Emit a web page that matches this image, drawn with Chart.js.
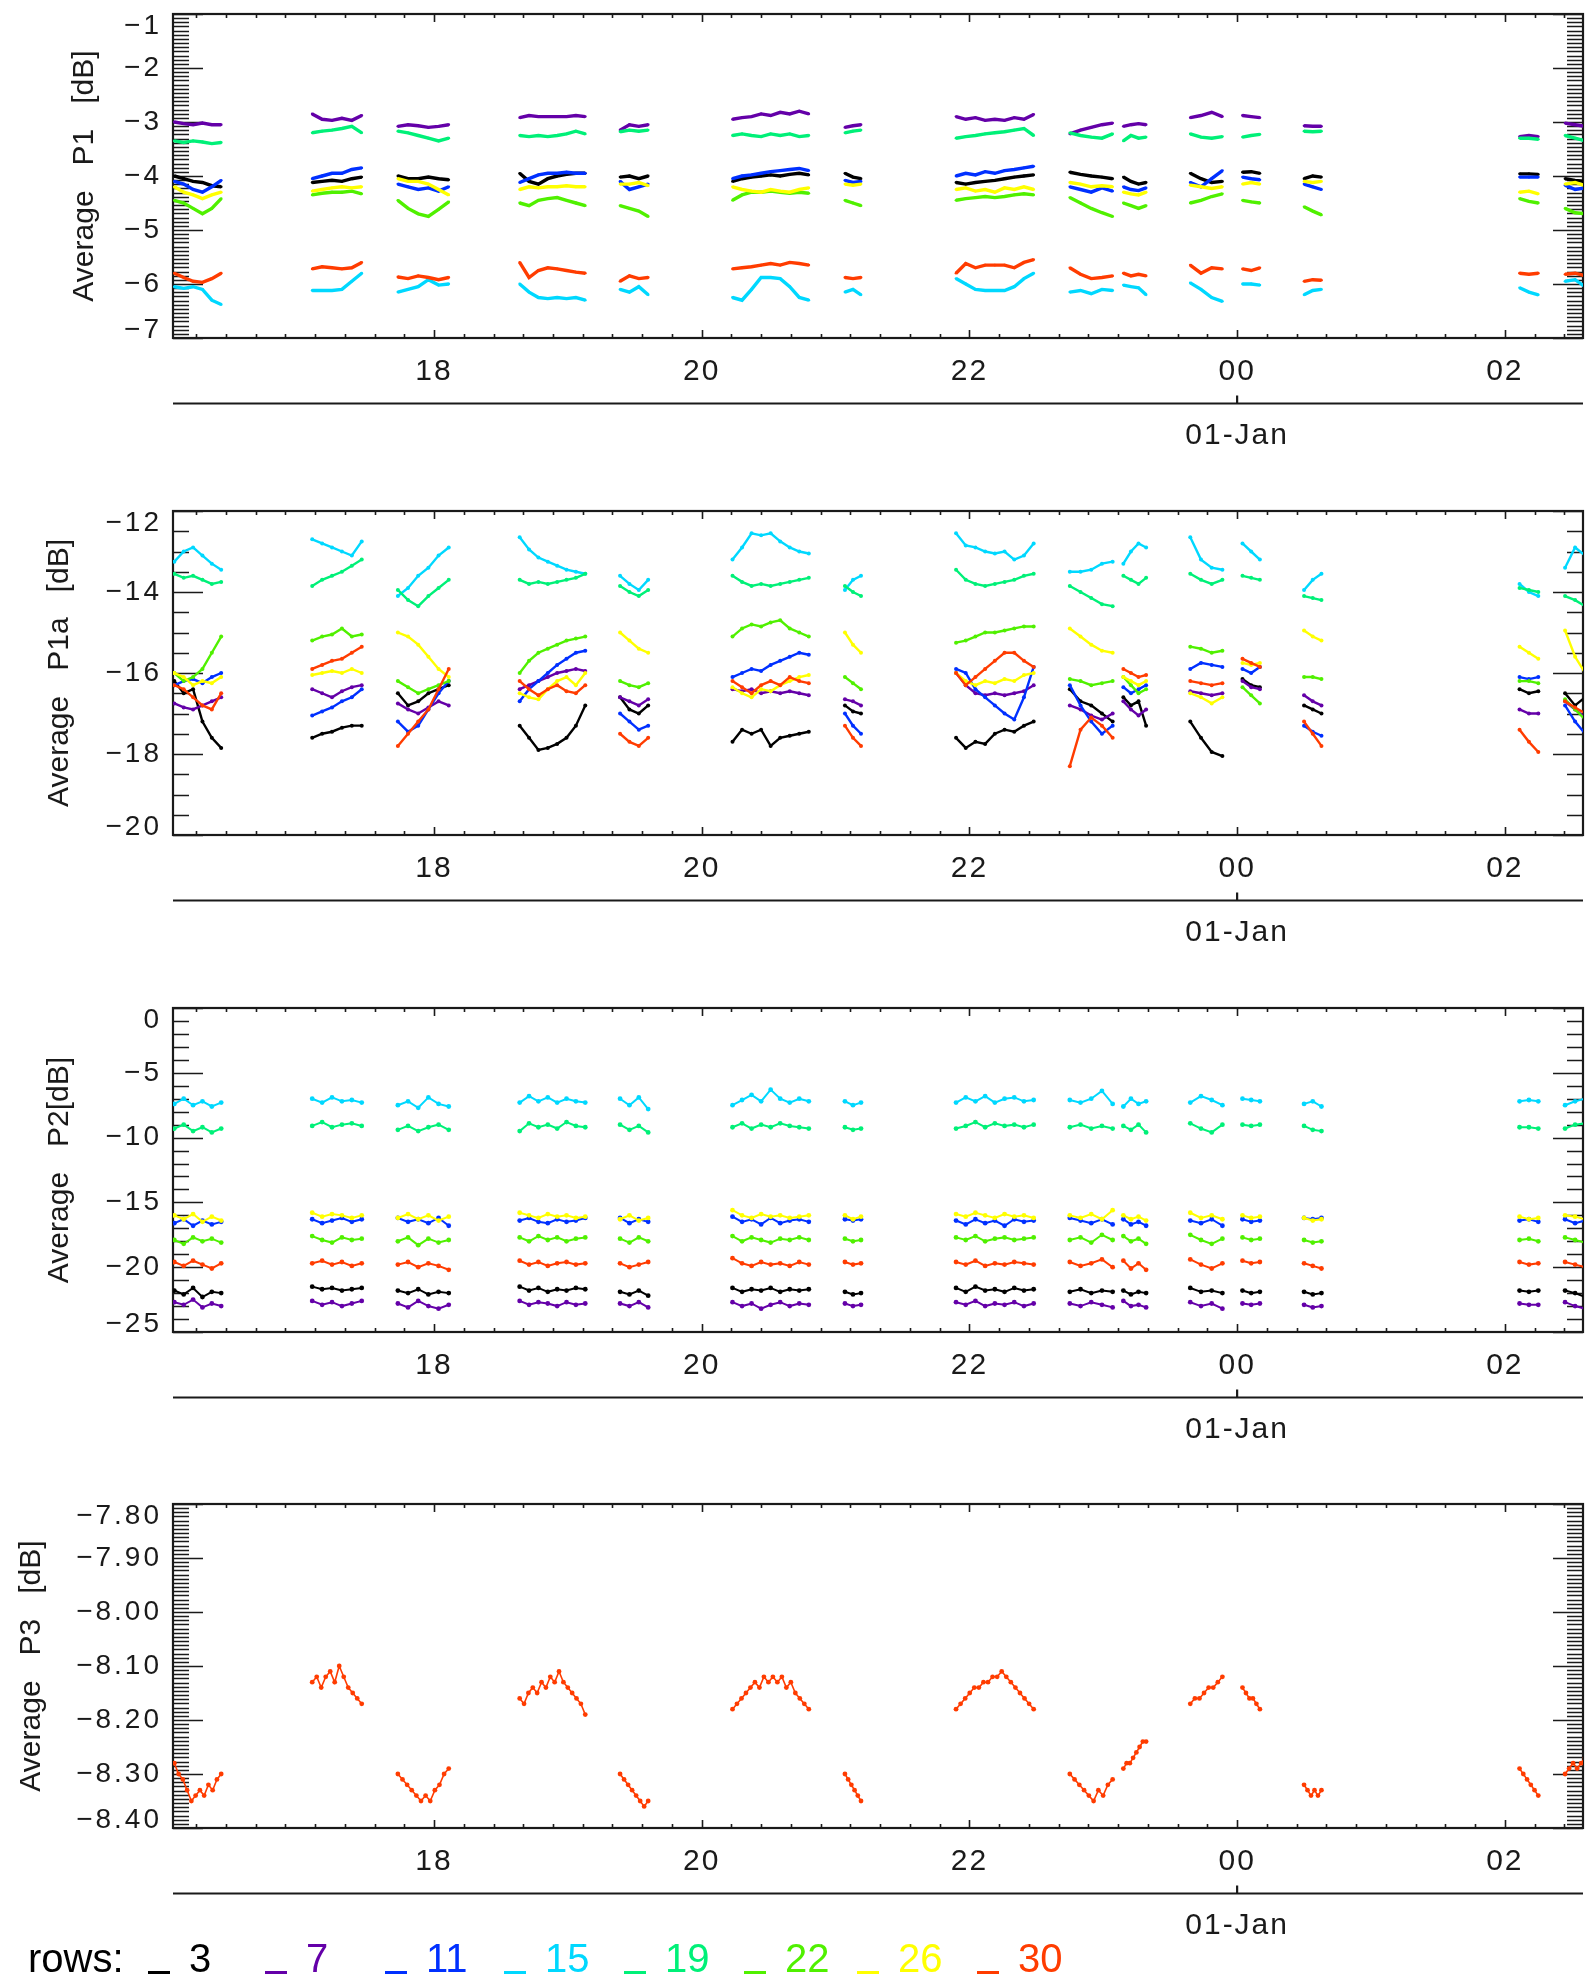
<!DOCTYPE html>
<html lang="en">
<head>
<meta charset="UTF-8">
<title>Average P1 / P1a / P2 / P3 by row</title>
<style>
  html, body { margin: 0; padding: 0; background: #fff; }
  #page { position: relative; width: 1589px; height: 1978px; overflow: hidden; font-family: 'Liberation Sans', Arial, sans-serif; color: #1a1a1a; }
  #page canvas { position: absolute; left: 0; }
  #legend { position: absolute; left: 0; top: 1935px; width: 1589px; height: 46px; font-size: 40px; line-height: 46px; white-space: pre; z-index: 2; }
  #legend span { position: absolute; top: 0; }
  #legend .bar { position: absolute; top: 36px; width: 22px; height: 3px; }
</style>
<script src="https://cdn.jsdelivr.net/npm/chart.js"></script>
</head>
<body>
<div id="page">
  <canvas id="c0" width="1589" height="497" style="top:0px"></canvas>
  <canvas id="c1" width="1589" height="497" style="top:497px"></canvas>
  <canvas id="c2" width="1589" height="496" style="top:994px"></canvas>
  <canvas id="c3" width="1589" height="488" style="top:1490px"></canvas>
  <div id="legend"></div>
</div>
<script>
  // rows and their colours
  const ROWS = [3, 7, 11, 15, 19, 22, 26, 30];
  const ROW_COLORS = ['#000000', '#6400a8', '#0030ff', '#00d8ff', '#00f078', '#50f000', '#ffff00', '#ff3c00'];

  // time axis, hours from 00 on 31-Dec
  const X_MIN = 16.05, X_MAX = 26.584;
  const X_TICK_VALUES = [18, 20, 22, 24, 26];
  const X_TICK_LABELS = ['18', '20', '22', '00', '02'];
  const DATE_VALUE = 24;
  const DATE_LABEL = '01-Jan';

  // observation windows (each value list below is spread evenly over its window)
  const SEG_START = [16.06, 17.09, 17.73, 18.64, 19.39, 20.23, 21.07, 21.90, 22.75, 23.15, 23.65, 24.04, 24.50, 26.11, 26.45];
  const SEG_END   = [16.41, 17.46, 18.11, 19.13, 19.60, 20.80, 21.19, 22.48, 23.07, 23.32, 23.89, 24.17, 24.63, 26.25, 26.60];

  // ---- Average P1 [dB]
  const P1_ROW3 = [[-4.0,-4.05,-4.1,-4.12,-4.18,-4.2],[-4.12,-4.1,-4.08,-4.1,-4.05,-4.02],[-4.0,-4.05,-4.05,-4.02,-4.05,-4.07],[-3.95,-4.1,-4.15,-4.05,-4.0,-3.97,-3.95,-3.95],[-4.02,-4.0,-4.05,-4.0],[-4.1,-4.05,-4.02,-4.0,-3.98,-4.0,-3.97,-3.95,-3.98],[-3.95,-4.02,-4.05],[-4.12,-4.15,-4.12,-4.1,-4.08,-4.05,-4.02,-4.0,-3.98],[-3.93,-3.97,-4.0,-4.02,-4.05],[-4.02,-4.1,-4.15,-4.12],[-3.95,-4.05,-4.12,-4.1],[-3.93,-3.92,-3.95],[-4.05,-4.0,-4.02],[-3.96,-3.96,-3.97],[-4.05,-4.08,-4.1]];
  const P1_ROW7 = [[-3.0,-3.03,-3.05,-3.02,-3.05,-3.05],[-2.85,-2.95,-2.97,-2.93,-2.97,-2.88],[-3.08,-3.05,-3.07,-3.1,-3.08,-3.05],[-2.92,-2.88,-2.9,-2.9,-2.9,-2.9,-2.88,-2.9],[-3.15,-3.05,-3.08,-3.05],[-2.95,-2.92,-2.9,-2.85,-2.88,-2.82,-2.85,-2.8,-2.85],[-3.1,-3.07,-3.05],[-2.9,-2.95,-2.92,-2.97,-2.95,-2.97,-2.92,-2.95,-2.86],[-3.22,-3.15,-3.1,-3.05,-3.02],[-3.08,-3.05,-3.03,-3.05],[-2.92,-2.88,-2.82,-2.9],[-2.88,-2.9,-2.92],[-3.07,-3.08,-3.08],[-3.27,-3.25,-3.27],[-3.02,-3.05,-3.08]];
  const P1_ROW11 = [[-4.1,-4.15,-4.25,-4.3,-4.2,-4.08],[-4.05,-4.0,-3.95,-3.95,-3.88,-3.85],[-4.15,-4.2,-4.25,-4.22,-4.28,-4.2],[-4.12,-4.05,-3.98,-3.95,-3.95,-3.93,-3.95,-3.95],[-4.1,-4.25,-4.2,-4.15],[-4.05,-4.0,-3.98,-3.95,-3.92,-3.9,-3.88,-3.86,-3.9],[-4.08,-4.12,-4.1],[-4.0,-3.95,-3.98,-3.92,-3.95,-3.9,-3.88,-3.85,-3.82],[-4.2,-4.25,-4.3,-4.22,-4.28],[-4.2,-4.25,-4.27,-4.22],[-4.12,-4.2,-4.05,-3.9],[-4.02,-4.05,-4.07],[-4.15,-4.2,-4.25],[-4.02,-4.02,-4.02],[-4.17,-4.25,-4.22]];
  const P1_ROW15 = [[-6.05,-6.08,-6.05,-6.1,-6.3,-6.38],[-6.12,-6.12,-6.12,-6.1,-5.95,-5.8],[-6.15,-6.1,-6.05,-5.92,-6.02,-6.0],[-6.0,-6.15,-6.25,-6.27,-6.25,-6.27,-6.25,-6.3],[-6.1,-6.15,-6.05,-6.2],[-6.25,-6.3,-6.1,-5.88,-5.88,-5.9,-6.05,-6.25,-6.3],[-6.15,-6.1,-6.2],[-5.9,-6.0,-6.1,-6.12,-6.12,-6.12,-6.05,-5.9,-5.8],[-6.15,-6.12,-6.18,-6.1,-6.12],[-6.02,-6.05,-6.07,-6.2],[-5.98,-6.1,-6.25,-6.32],[-6.0,-6.0,-6.02],[-6.2,-6.12,-6.1],[-6.07,-6.15,-6.2],[-5.95,-5.92,-6.05]];
  const P1_ROW19 = [[-3.35,-3.38,-3.35,-3.37,-3.4,-3.38],[-3.2,-3.17,-3.15,-3.12,-3.08,-3.2],[-3.17,-3.2,-3.25,-3.3,-3.35,-3.3],[-3.25,-3.27,-3.25,-3.27,-3.25,-3.22,-3.17,-3.22],[-3.18,-3.15,-3.17,-3.15],[-3.25,-3.22,-3.25,-3.27,-3.22,-3.25,-3.22,-3.27,-3.25],[-3.2,-3.17,-3.15],[-3.3,-3.27,-3.25,-3.22,-3.2,-3.18,-3.15,-3.12,-3.25],[-3.2,-3.25,-3.28,-3.3,-3.22],[-3.35,-3.25,-3.3,-3.28],[-3.22,-3.28,-3.3,-3.27],[-3.28,-3.25,-3.23],[-3.17,-3.18,-3.17],[-3.3,-3.3,-3.32],[-3.25,-3.3,-3.35]];
  const P1_ROW22 = [[-4.45,-4.5,-4.6,-4.7,-4.6,-4.42],[-4.35,-4.32,-4.3,-4.3,-4.28,-4.33],[-4.45,-4.6,-4.7,-4.75,-4.62,-4.48],[-4.5,-4.55,-4.45,-4.42,-4.4,-4.45,-4.5,-4.55],[-4.55,-4.6,-4.65,-4.75],[-4.45,-4.35,-4.3,-4.3,-4.28,-4.3,-4.32,-4.3,-4.32],[-4.45,-4.5,-4.55],[-4.45,-4.42,-4.4,-4.38,-4.4,-4.38,-4.35,-4.33,-4.35],[-4.4,-4.5,-4.6,-4.68,-4.75],[-4.5,-4.55,-4.6,-4.55],[-4.5,-4.45,-4.38,-4.33],[-4.45,-4.48,-4.5],[-4.57,-4.65,-4.72],[-4.42,-4.47,-4.5],[-4.6,-4.68,-4.7]];
  const P1_ROW26 = [[-4.2,-4.3,-4.35,-4.42,-4.35,-4.3],[-4.28,-4.25,-4.22,-4.2,-4.22,-4.2],[-4.05,-4.1,-4.1,-4.15,-4.25,-4.35],[-4.25,-4.2,-4.22,-4.2,-4.2,-4.18,-4.2,-4.2],[-4.15,-4.15,-4.12,-4.18],[-4.2,-4.25,-4.28,-4.3,-4.25,-4.28,-4.3,-4.25,-4.22],[-4.15,-4.17,-4.15],[-4.25,-4.22,-4.28,-4.25,-4.3,-4.22,-4.25,-4.2,-4.25],[-4.12,-4.15,-4.2,-4.18,-4.2],[-4.3,-4.33,-4.35,-4.3],[-4.17,-4.2,-4.23,-4.2],[-4.15,-4.12,-4.15],[-4.1,-4.12,-4.1],[-4.3,-4.28,-4.33],[-4.15,-4.12,-4.18]];
  const P1_ROW30 = [[-5.8,-5.88,-5.95,-5.97,-5.9,-5.8],[-5.72,-5.68,-5.7,-5.72,-5.7,-5.6],[-5.87,-5.9,-5.85,-5.88,-5.92,-5.88],[-5.6,-5.88,-5.75,-5.7,-5.72,-5.75,-5.78,-5.8],[-5.95,-5.85,-5.9,-5.88],[-5.72,-5.7,-5.68,-5.65,-5.62,-5.65,-5.6,-5.62,-5.65],[-5.88,-5.9,-5.88],[-5.8,-5.62,-5.7,-5.65,-5.65,-5.65,-5.7,-5.6,-5.55],[-5.7,-5.82,-5.9,-5.88,-5.85],[-5.8,-5.85,-5.82,-5.85],[-5.65,-5.8,-5.7,-5.72],[-5.72,-5.75,-5.7],[-5.95,-5.92,-5.93],[-5.8,-5.82,-5.8],[-5.82,-5.8,-5.85]];

  // ---- Average P1a [dB]
  const P1A_ROW3 = [[-16.2,-16.5,-16.4,-17.2,-17.6,-17.85],[-17.6,-17.5,-17.45,-17.35,-17.3,-17.3],[-16.5,-16.8,-16.7,-16.5,-16.4,-16.3],[-17.3,-17.6,-17.9,-17.85,-17.75,-17.6,-17.3,-16.8],[-16.6,-16.9,-17.0,-16.8],[-17.7,-17.4,-17.5,-17.4,-17.8,-17.6,-17.55,-17.5,-17.45],[-16.8,-16.95,-17.0],[-17.6,-17.85,-17.7,-17.75,-17.5,-17.4,-17.45,-17.3,-17.2],[-16.4,-16.7,-16.8,-17.0,-17.2],[-16.6,-16.8,-16.7,-17.3],[-17.2,-17.6,-17.95,-18.05],[-16.15,-16.3,-16.35],[-16.8,-16.9,-17.0],[-16.4,-16.5,-16.45],[-16.5,-16.8,-16.6]];
  const P1A_ROW7 = [[-16.75,-16.85,-16.9,-16.8,-16.7,-16.6],[-16.4,-16.5,-16.6,-16.45,-16.35,-16.3],[-16.75,-16.9,-17.0,-16.85,-16.7,-16.8],[-16.4,-16.3,-16.2,-16.1,-16.0,-15.95,-15.9,-15.95],[-16.6,-16.7,-16.8,-16.65],[-16.4,-16.45,-16.4,-16.5,-16.45,-16.5,-16.45,-16.5,-16.55],[-16.65,-16.7,-16.8],[-16.0,-16.3,-16.5,-16.55,-16.5,-16.55,-16.5,-16.45,-16.3],[-16.8,-16.9,-17.05,-17.15,-17.0],[-16.7,-16.9,-17.05,-16.9],[-16.45,-16.5,-16.55,-16.5],[-16.2,-16.35,-16.4],[-16.55,-16.7,-16.8],[-16.9,-17.0,-17.0],[-16.7,-16.9,-17.1]];
  const P1A_ROW11 = [[-16.3,-16.2,-16.15,-16.25,-16.1,-16.0],[-17.05,-16.95,-16.85,-16.7,-16.6,-16.4],[-17.2,-17.45,-17.3,-16.9,-16.5,-16.2],[-16.7,-16.4,-16.2,-16.0,-15.8,-15.65,-15.5,-15.45],[-17.0,-17.2,-17.4,-17.3],[-16.1,-16.0,-15.9,-15.95,-15.8,-15.7,-15.6,-15.5,-15.55],[-17.0,-17.3,-17.5],[-15.9,-16.0,-16.4,-16.6,-16.8,-17.0,-17.15,-16.6,-15.85],[-16.3,-16.8,-17.2,-17.5,-17.3],[-16.35,-16.5,-16.4,-16.3],[-15.9,-15.75,-15.8,-15.85],[-15.9,-16.0,-15.85],[-17.3,-17.45,-17.55],[-16.1,-16.15,-16.1],[-16.8,-17.2,-17.5]];
  const P1A_ROW15 = [[-13.25,-13.0,-12.9,-13.1,-13.3,-13.45],[-12.7,-12.8,-12.9,-13.0,-13.1,-12.75],[-14.1,-13.9,-13.6,-13.4,-13.1,-12.9],[-12.65,-12.95,-13.15,-13.25,-13.35,-13.45,-13.5,-13.55],[-13.6,-13.8,-13.95,-13.7],[-13.2,-12.9,-12.55,-12.6,-12.55,-12.75,-12.9,-13.0,-13.05],[-13.95,-13.7,-13.6],[-12.55,-12.85,-12.9,-13.0,-13.05,-13.0,-13.2,-13.1,-12.8],[-13.5,-13.5,-13.45,-13.3,-13.25],[-13.3,-13.0,-12.8,-12.9],[-12.65,-13.2,-13.4,-13.45],[-12.8,-13.0,-13.2],[-13.95,-13.7,-13.55],[-13.8,-14.0,-14.1],[-13.4,-12.9,-13.1]];
  const P1A_ROW19 = [[-13.55,-13.65,-13.6,-13.7,-13.8,-13.75],[-13.85,-13.7,-13.6,-13.5,-13.35,-13.2],[-13.95,-14.2,-14.35,-14.1,-13.9,-13.7],[-13.7,-13.8,-13.75,-13.8,-13.75,-13.7,-13.65,-13.55],[-13.85,-14.0,-14.1,-13.95],[-13.6,-13.75,-13.85,-13.8,-13.85,-13.8,-13.75,-13.7,-13.65],[-13.85,-14.0,-14.1],[-13.45,-13.7,-13.8,-13.85,-13.8,-13.75,-13.7,-13.6,-13.55],[-13.85,-14.0,-14.15,-14.3,-14.35],[-13.6,-13.7,-13.8,-13.65],[-13.55,-13.7,-13.8,-13.7],[-13.6,-13.65,-13.7],[-14.1,-14.15,-14.2],[-13.9,-13.95,-14.0],[-14.1,-14.2,-14.35]];
  const P1A_ROW22 = [[-16.0,-16.2,-16.1,-15.9,-15.5,-15.1],[-15.2,-15.1,-15.05,-14.9,-15.1,-15.05],[-16.2,-16.35,-16.5,-16.4,-16.3,-16.2],[-16.0,-15.7,-15.5,-15.4,-15.3,-15.2,-15.15,-15.1],[-16.2,-16.3,-16.35,-16.25],[-15.1,-14.9,-14.8,-14.85,-14.75,-14.7,-14.9,-15.0,-15.1],[-16.1,-16.25,-16.4],[-15.25,-15.2,-15.1,-15.0,-15.0,-14.95,-14.9,-14.85,-14.85],[-16.15,-16.2,-16.3,-16.25,-16.2],[-16.1,-16.3,-16.5,-16.4],[-15.35,-15.4,-15.5,-15.45],[-16.35,-16.55,-16.75],[-16.1,-16.1,-16.15],[-16.2,-16.2,-16.25],[-16.65,-16.9,-17.15]];
  const P1A_ROW26 = [[-16.0,-16.1,-16.3,-16.2,-16.25,-16.1],[-16.05,-16.0,-15.95,-16.0,-15.9,-16.0],[-15.0,-15.1,-15.3,-15.6,-15.9,-16.1],[-16.5,-16.6,-16.65,-16.4,-16.2,-16.1,-16.3,-16.0],[-15.0,-15.2,-15.4,-15.5],[-16.35,-16.5,-16.6,-16.4,-16.45,-16.3,-16.2,-16.1,-16.05],[-15.0,-15.3,-15.5],[-16.0,-16.2,-16.3,-16.2,-16.25,-16.15,-16.2,-16.05,-16.0],[-14.9,-15.1,-15.3,-15.45,-15.5],[-16.1,-16.2,-16.3,-16.2],[-16.5,-16.6,-16.75,-16.6],[-15.75,-15.8,-15.75],[-14.95,-15.1,-15.2],[-15.35,-15.5,-15.65],[-14.95,-15.6,-16.0]];
  const P1A_ROW30 = [[-16.3,-16.4,-16.6,-16.8,-16.9,-16.5],[-15.9,-15.8,-15.7,-15.65,-15.5,-15.35],[-17.8,-17.5,-17.2,-16.9,-16.4,-15.9],[-16.2,-16.4,-16.55,-16.4,-16.3,-16.45,-16.5,-16.3],[-17.5,-17.7,-17.8,-17.6],[-16.2,-16.35,-16.5,-16.3,-16.2,-16.3,-16.1,-16.2,-16.25],[-17.3,-17.6,-17.8],[-16.0,-16.3,-16.1,-15.9,-15.7,-15.5,-15.5,-15.7,-15.85],[-18.3,-17.4,-17.1,-17.3,-17.6],[-15.9,-16.0,-16.1,-16.05],[-16.2,-16.25,-16.3,-16.25],[-15.65,-15.75,-15.85],[-17.2,-17.5,-17.8],[-17.4,-17.7,-17.95],[-16.7,-16.85,-17.0]];

  // ---- Average P2 [dB]
  const P2_ROW3 = [[-21.8,-22.1,-21.6,-22.3,-21.9,-22.0],[-21.5,-21.7,-21.6,-21.8,-21.7,-21.6],[-21.8,-22.0,-21.7,-22.1,-21.9,-22.0],[-21.5,-21.8,-21.6,-21.9,-21.7,-21.8,-21.6,-21.7],[-21.9,-22.1,-21.8,-22.2],[-21.6,-21.9,-21.7,-21.8,-21.6,-21.9,-21.7,-21.8,-21.7],[-21.9,-22.1,-22.0],[-21.6,-21.9,-21.5,-21.8,-21.7,-21.9,-21.6,-21.8,-21.7],[-21.9,-21.7,-22.0,-21.8,-21.9],[-21.8,-22.1,-21.9,-22.0],[-21.6,-21.9,-21.8,-22.0],[-21.8,-22.0,-21.9],[-21.9,-22.1,-22.0],[-21.8,-21.9,-21.8],[-21.8,-22.0,-22.3]];
  const P2_ROW7 = [[-22.7,-22.9,-22.5,-23.1,-22.8,-23.0],[-22.6,-22.9,-22.7,-23.0,-22.8,-22.6],[-22.8,-23.1,-22.6,-23.0,-23.2,-22.9],[-22.6,-22.9,-22.7,-22.8,-23.0,-22.7,-22.9,-22.8],[-22.8,-23.0,-22.7,-23.1],[-22.7,-23.0,-22.8,-23.2,-22.9,-22.7,-23.0,-22.8,-22.9],[-22.8,-23.0,-22.9],[-22.7,-22.9,-22.6,-23.0,-22.8,-22.9,-22.7,-23.0,-22.8],[-22.8,-23.0,-22.7,-22.9,-23.1],[-22.6,-23.0,-22.9,-23.1],[-22.7,-23.0,-22.8,-23.2],[-22.8,-22.9,-22.8],[-22.9,-23.1,-23.0],[-22.8,-22.9,-22.9],[-22.7,-23.0,-23.2]];
  const P2_ROW11 = [[-16.6,-16.3,-16.8,-16.4,-16.7,-16.5],[-16.3,-16.6,-16.4,-16.2,-16.5,-16.3],[-16.2,-16.5,-16.3,-16.6,-16.2,-16.8],[-16.4,-16.2,-16.5,-16.6,-16.3,-16.5,-16.4,-16.2],[-16.2,-16.6,-16.3,-16.5],[-16.1,-16.5,-16.3,-16.7,-16.2,-16.6,-16.4,-16.3,-16.5],[-16.3,-16.4,-16.3],[-16.4,-16.7,-16.3,-16.6,-16.4,-16.8,-16.3,-16.5,-16.4],[-16.2,-16.4,-16.6,-16.3,-16.7],[-16.3,-16.7,-16.5,-16.8],[-16.4,-16.6,-16.3,-16.8],[-16.3,-16.5,-16.4],[-16.2,-16.3,-16.2],[-16.4,-16.3,-16.5],[-16.3,-16.6,-16.4]];
  const P2_ROW15 = [[-7.4,-7.0,-7.5,-7.2,-7.6,-7.3],[-7.0,-7.3,-6.9,-7.2,-7.1,-7.3],[-7.5,-7.2,-7.7,-6.9,-7.4,-7.6],[-7.3,-6.8,-7.2,-6.9,-7.3,-7.0,-7.2,-7.3],[-7.0,-7.5,-6.9,-7.8],[-7.5,-7.1,-6.7,-7.2,-6.3,-7.0,-7.3,-7.0,-7.2],[-7.2,-7.5,-7.3],[-7.3,-6.9,-7.2,-6.8,-7.3,-7.0,-6.9,-7.2,-7.1],[-7.1,-7.3,-7.0,-6.4,-7.4],[-7.6,-7.0,-7.4,-7.2],[-7.3,-6.8,-7.1,-7.5],[-7.0,-7.1,-7.2],[-7.4,-7.2,-7.6],[-7.2,-7.1,-7.2],[-7.5,-7.2,-7.0]];
  const P2_ROW19 = [[-9.3,-9.0,-9.5,-9.2,-9.6,-9.3],[-9.1,-8.8,-9.2,-9.0,-8.9,-9.1],[-9.4,-9.1,-9.5,-9.2,-9.0,-9.4],[-9.5,-8.9,-9.2,-9.0,-9.3,-8.8,-9.1,-9.2],[-9.0,-9.4,-9.1,-9.6],[-9.2,-8.9,-9.3,-9.0,-9.2,-8.9,-9.1,-9.2,-9.3],[-9.2,-9.4,-9.3],[-9.3,-9.1,-8.8,-9.2,-8.9,-9.1,-9.0,-9.2,-9.0],[-9.2,-9.0,-9.3,-9.1,-9.3],[-9.1,-9.4,-9.0,-9.6],[-8.9,-9.3,-9.6,-9.0],[-9.0,-9.1,-9.0],[-9.1,-9.4,-9.5],[-9.2,-9.2,-9.3],[-9.3,-9.0,-8.9]];
  const P2_ROW22 = [[-17.9,-18.2,-17.7,-18.0,-17.8,-18.1],[-17.6,-17.9,-18.1,-17.7,-17.9,-17.8],[-18.0,-17.7,-18.3,-17.8,-18.1,-17.9],[-17.7,-18.0,-17.6,-17.9,-17.7,-18.0,-17.8,-17.7],[-17.8,-18.1,-17.7,-18.0],[-17.6,-18.0,-17.7,-17.9,-18.1,-17.8,-17.9,-17.7,-17.9],[-17.8,-18.0,-17.9],[-17.7,-17.9,-17.6,-18.0,-17.8,-17.7,-17.9,-17.8,-17.7],[-17.9,-17.7,-18.1,-17.5,-17.9],[-17.6,-18.0,-17.8,-18.2],[-17.5,-17.9,-18.2,-17.8],[-17.7,-17.9,-17.8],[-17.9,-18.1,-18.0],[-17.9,-17.8,-18.0],[-17.7,-17.9,-18.1]];
  const P2_ROW26 = [[-16.0,-16.3,-15.9,-16.5,-16.1,-16.4],[-15.8,-16.1,-15.9,-16.0,-16.2,-16.0],[-16.2,-15.9,-16.3,-16.0,-16.4,-16.1],[-15.8,-16.0,-16.2,-15.9,-16.1,-16.0,-16.2,-16.1],[-16.3,-16.0,-16.4,-16.2],[-15.6,-16.0,-16.2,-15.9,-16.1,-16.0,-16.2,-16.1,-16.0],[-16.0,-16.3,-16.1],[-15.9,-16.1,-15.8,-16.0,-16.2,-15.9,-16.1,-16.0,-16.2],[-16.0,-16.2,-15.9,-16.3,-15.6],[-16.0,-16.3,-16.1,-16.4],[-15.8,-16.2,-16.0,-16.3],[-16.0,-16.2,-16.1],[-16.2,-16.4,-16.3],[-16.1,-16.3,-16.2],[-16.0,-16.1,-16.3]];
  const P2_ROW30 = [[-19.6,-19.9,-19.5,-19.8,-20.1,-19.7],[-19.7,-19.5,-19.8,-19.6,-19.9,-19.7],[-19.8,-19.6,-20.0,-19.7,-19.9,-20.2],[-19.5,-19.8,-19.6,-19.9,-19.7,-19.6,-19.8,-19.7],[-19.7,-20.0,-19.8,-19.6],[-19.3,-19.7,-19.9,-19.6,-19.8,-19.7,-19.9,-19.6,-19.8],[-19.6,-19.8,-19.7],[-19.6,-19.8,-19.5,-19.9,-19.7,-19.8,-19.6,-19.7,-19.8],[-19.6,-19.9,-19.7,-19.4,-20.0],[-19.5,-20.1,-19.7,-20.2],[-19.4,-19.8,-20.1,-19.7],[-19.5,-19.7,-19.6],[-19.7,-19.9,-20.1],[-19.6,-19.8,-19.7],[-19.6,-19.8,-20.0]];

  // ---- Average P3 [dB] (row 30 only)
  const P3_ROW30 = [[-8.28,-8.30,-8.31,-8.33,-8.35,-8.34,-8.33,-8.34,-8.32,-8.33,-8.31,-8.30],[-8.13,-8.12,-8.14,-8.12,-8.11,-8.13,-8.10,-8.12,-8.14,-8.15,-8.16,-8.17],[-8.30,-8.31,-8.32,-8.33,-8.34,-8.35,-8.34,-8.35,-8.33,-8.32,-8.30,-8.29],[-8.16,-8.17,-8.15,-8.14,-8.15,-8.13,-8.14,-8.12,-8.13,-8.11,-8.13,-8.14,-8.15,-8.16,-8.17,-8.19],[-8.30,-8.31,-8.32,-8.33,-8.34,-8.35,-8.36,-8.35],[-8.18,-8.17,-8.16,-8.15,-8.14,-8.13,-8.14,-8.12,-8.13,-8.12,-8.13,-8.12,-8.14,-8.13,-8.15,-8.16,-8.17,-8.18],[-8.30,-8.31,-8.32,-8.33,-8.34,-8.35],[-8.18,-8.17,-8.16,-8.15,-8.14,-8.14,-8.13,-8.13,-8.12,-8.12,-8.11,-8.12,-8.13,-8.14,-8.15,-8.16,-8.17,-8.18],[-8.30,-8.31,-8.32,-8.33,-8.34,-8.35,-8.33,-8.34,-8.32,-8.31],[-8.29,-8.28,-8.28,-8.27,-8.26,-8.25,-8.24,-8.24],[-8.17,-8.16,-8.16,-8.15,-8.14,-8.14,-8.13,-8.12],[-8.14,-8.15,-8.16,-8.16,-8.17,-8.18],[-8.32,-8.33,-8.34,-8.33,-8.34,-8.33],[-8.29,-8.30,-8.31,-8.32,-8.33,-8.34],[-8.30,-8.29,-8.28,-8.29,-8.28,-8.27]];

  const FONT = "'Liberation Sans', Arial, sans-serif";
  const INK = '#1a1a1a';

  const PANELS = [
    { canvas: 'c0', title: 'Average   P1   [dB]', titleX: 93, min: -7, max: -1,
      ticks: [-7, -6, -5, -4, -3, -2, -1], labels: ['−7', '−6', '−5', '−4', '−3', '−2', '−1'], minor: 13,
      rows: [0, 1, 2, 3, 4, 5, 6, 7], series: [P1_ROW3, P1_ROW7, P1_ROW11, P1_ROW15, P1_ROW19, P1_ROW22, P1_ROW26, P1_ROW30],
      lineWidth: 3.4, pointRadius: 1.4 },
    { canvas: 'c1', title: 'Average   P1a   [dB]', titleX: 68, min: -20, max: -12,
      ticks: [-20, -18, -16, -14, -12], labels: ['−20', '−18', '−16', '−14', '−12'], minor: 4,
      rows: [0, 1, 2, 3, 4, 5, 6, 7], series: [P1A_ROW3, P1A_ROW7, P1A_ROW11, P1A_ROW15, P1A_ROW19, P1A_ROW22, P1A_ROW26, P1A_ROW30],
      lineWidth: 2.4, pointRadius: 2.0 },
    { canvas: 'c2', title: 'Average   P2[dB]', titleX: 68, min: -25, max: 0,
      ticks: [-25, -20, -15, -10, -5, 0], labels: ['−25', '−20', '−15', '−10', '−5', '0'], minor: 5,
      rows: [0, 1, 2, 3, 4, 5, 6, 7], series: [P2_ROW3, P2_ROW7, P2_ROW11, P2_ROW15, P2_ROW19, P2_ROW22, P2_ROW26, P2_ROW30],
      lineWidth: 2.0, pointRadius: 2.4 },
    { canvas: 'c3', title: 'Average   P3   [dB]', titleX: 40, min: -8.4, max: -7.8,
      ticks: [-8.4, -8.3, -8.2, -8.1, -8.0, -7.9, -7.8], labels: ['−8.40', '−8.30', '−8.20', '−8.10', '−8.00', '−7.90', '−7.80'], minor: 13,
      rows: [7], series: [P3_ROW30],
      lineWidth: 1.6, pointRadius: 2.4 }
  ];

  function toPoints(segs) {
    const pts = [];
    segs.forEach((vals, s) => {
      const t0 = SEG_START[s], t1 = SEG_END[s], n = vals.length;
      vals.forEach((v, i) => pts.push({ x: n > 1 ? t0 + (t1 - t0) * i / (n - 1) : t0, y: v }));
      pts.push({ x: t1 + 0.01, y: null });
    });
    return pts;
  }

  // IDL style frame: inward ticks on all four sides, y labels, title, date axis
  function makeFrame(p) {
    return {
      id: 'idlFrame',
      beforeDraw(chart) {
        chart.ctx.letterSpacing = '2px';
      },
      beforeDatasetsDraw(chart) {
        const { ctx, chartArea: a, scales } = chart;
        const xs = scales.x, ys = scales.y;
        ctx.save();
        ctx.strokeStyle = INK;
        ctx.lineWidth = 1.6;
        ctx.beginPath();
        const xStep = 2 / 9;
        for (let k = -20; k <= 50; k++) {
          const v = 18 + k * xStep;
          if (v < X_MIN || v > X_MAX) continue;
          const px = Math.round(xs.getPixelForValue(v)) + 0.5;
          const len = (k % 9 === 0) ? 8 : 4;
          ctx.moveTo(px, a.bottom); ctx.lineTo(px, a.bottom - len);
          ctx.moveTo(px, a.top); ctx.lineTo(px, a.top + len);
        }
        const major = p.ticks[1] - p.ticks[0];
        const nMinor = Math.round((p.max - p.min) / major * p.minor);
        for (let i = 0; i <= nMinor; i++) {
          const v = p.min + i * major / p.minor;
          const py = Math.round(ys.getPixelForValue(v)) + 0.5;
          const len = (i % p.minor === 0) ? 30 : 16;
          ctx.moveTo(a.left, py); ctx.lineTo(a.left + len, py);
          ctx.moveTo(a.right, py); ctx.lineTo(a.right - len, py);
        }
        ctx.stroke();
        ctx.lineWidth = 2.2;
        ctx.strokeRect(a.left, a.top, a.right - a.left, a.bottom - a.top);

        // date axis line under the hour labels
        const x2 = scales.x2;
        ctx.beginPath();
        ctx.moveTo(a.left, x2.top); ctx.lineTo(a.right, x2.top);
        const dp = x2.getPixelForValue(DATE_VALUE);
        ctx.moveTo(dp, x2.top); ctx.lineTo(dp, x2.top - 8);
        ctx.stroke();

        // y tick labels
        ctx.fillStyle = INK;
        ctx.font = '28px ' + FONT;
        ctx.letterSpacing = '3px';
        ctx.textAlign = 'right';
        ctx.textBaseline = 'middle';
        p.ticks.forEach((v, i) => {
          let py = ys.getPixelForValue(v);
          py = Math.min(Math.max(py, a.top + 12), a.bottom - 8);
          ctx.fillText(p.labels[i], a.left - 11, py);
        });

        // y title
        ctx.letterSpacing = '0px';
        ctx.font = '30px ' + FONT;
        ctx.textAlign = 'center';
        ctx.textBaseline = 'alphabetic';
        ctx.translate(p.titleX, (a.top + a.bottom) / 2);
        ctx.rotate(-Math.PI / 2);
        ctx.fillText(p.title, 0, 0);
        ctx.restore();
      }
    };
  }

  PANELS.forEach(p => {
    const cv = document.getElementById(p.canvas);
    const H = cv.height;
    new Chart(cv, {
      type: 'line',
      data: {
        datasets: p.series.map((segs, i) => {
          const r = p.rows[i];
          return {
            label: 'rows ' + ROWS[r],
            data: toPoints(segs),
            borderColor: ROW_COLORS[r],
            backgroundColor: ROW_COLORS[r],
            borderWidth: p.lineWidth,
            pointRadius: p.pointRadius,
            pointBorderWidth: 0,
            pointHoverRadius: 0,
            tension: 0,
            spanGaps: false,
            order: 8 - r
          };
        })
      },
      options: {
        responsive: false,
        animation: false,
        devicePixelRatio: 1,
        layout: { padding: { top: 14, right: 6, left: 0, bottom: 0 } },
        plugins: { legend: { display: false }, tooltip: { enabled: false } },
        scales: {
          x: {
            type: 'linear', position: 'bottom', weight: 0, min: X_MIN, max: X_MAX,
            afterBuildTicks: s => { s.ticks = X_TICK_VALUES.map(v => ({ value: v })); },
            ticks: { autoSkip: false, maxRotation: 0, padding: 16, color: INK, font: { family: FONT, size: 30 },
                     callback: (v, i) => X_TICK_LABELS[i] },
            grid: { display: false, drawTicks: false },
            border: { display: false },
            afterFit: s => { s.height = 65.5; }
          },
          x2: {
            type: 'linear', position: 'bottom', weight: 1, min: X_MIN, max: X_MAX,
            afterBuildTicks: s => { s.ticks = [{ value: DATE_VALUE }]; },
            ticks: { autoSkip: false, maxRotation: 0, padding: 14, color: INK, font: { family: FONT, size: 30 },
                     callback: () => DATE_LABEL },
            grid: { display: false, drawTicks: false },
            border: { display: false },
            afterFit: s => { s.height = H - 14 - 324 - 65.5; }
          },
          y: {
            type: 'linear', min: p.min, max: p.max,
            ticks: { display: false },
            grid: { display: false, drawTicks: false },
            border: { display: false },
            afterFit: s => { s.width = 173; }
          }
        }
      },
      plugins: [makeFrame(p)]
    });
  });

  // legend row
  const LEGEND_X = [148, 265, 385, 504, 624, 744, 857, 977];
  const legend = document.getElementById('legend');
  const head = document.createElement('span');
  head.textContent = 'rows:';
  head.style.left = '28px';
  head.style.color = '#000';
  legend.appendChild(head);
  ROWS.forEach((r, i) => {
    const bar = document.createElement('div');
    bar.className = 'bar';
    bar.style.left = LEGEND_X[i] + 'px';
    bar.style.background = ROW_COLORS[i];
    legend.appendChild(bar);
    const s = document.createElement('span');
    s.textContent = String(r);
    s.style.left = (LEGEND_X[i] + 41) + 'px';
    s.style.color = ROW_COLORS[i];
    legend.appendChild(s);
  });
</script>
</body>
</html>
